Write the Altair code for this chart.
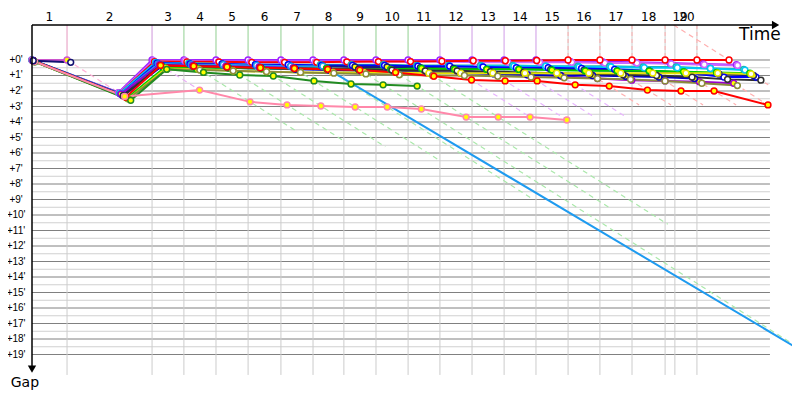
import altair as alt
import pandas as pd

# ---------------- data ----------------
# leader time at the end of each stage (index 0 = start), in minutes
stage_end = [0.0, 1.43, 4.90, 6.20, 7.51, 8.82, 10.16, 11.47, 12.73, 14.04, 15.35,
             16.65, 17.96, 19.27, 20.57, 21.88, 23.18, 24.49, 25.84, 27.14, 28.45]
# vertical grid lines (stage boundaries on the time axis)
grid_times = [1.43, 4.90, 6.20, 7.51, 8.82, 10.16, 11.47, 12.73, 14.04, 15.35,
              16.65, 17.96, 19.27, 20.57, 21.88, 23.18, 24.49, 25.84, 26.24, 27.14]
stage_labels = [str(i) for i in range(1, 21)]
label_pos = [0.71, 3.17, 5.55, 6.86, 8.17, 9.49, 10.82, 12.10, 13.39, 14.70,
             16.00, 17.31, 18.62, 19.92, 21.23, 22.53, 23.84, 25.17, 26.45, 26.73]
# colour of each stage (stage winner), light tone
stage_colors = ["#ffb0d8", "#e8b0f4"] + ["#aae8aa"] * 8 + ["#e8b4ff"] * 4 + ["#ffb0b0"] * 6
# largest gap of each stage (length of the iso-time line)
iso_max = [2.6, 1.94, 4.6, 5.2, 5.6, 6.5, 9.0, 20.0, 9.6, 10.6,
           3.7, 3.9, 3.7, 3.7, 2.9, 2.9, 2.9, 2.9, 2.9, 1.6]

gap_ticks = list(range(0, 20))

N = None
riders = {
    "R01": ("#a020ff", "white",
            [0, 2.10, 0, 0, 0, 0, 0, 0, 0, 0, 0, 0, 0, 0, 0, 0.10, 0.12, 0.15, 0.2, 0.25, 0.3]),
    "R02": ("#cc66ff", "white",
            [0, 2.12, 0.05, 0.05, 0.1, 0.1, 0.1, 0.1, 0.1, 0.1, 0.1, 0.1, 0.15, 0.15, 0.15, 0.15, 0.2, 0.2, 0.25, 0.3, 0.35]),
    "R03": ("#ff0000", "white",
            [0.02, 2.15, 0.1, 0.12, 0.12, 0.15, 0.15, 0.15, 0.12, 0.1, 0.1, 0.08, 0.05, 0.05, 0.03, 0, 0, 0, 0, 0, 0]),
    "R04": ("#20b2aa", "white",
            [0, 2.18, 0.2, 0.2, 0.25, 0.3, 0.3, 0.3, 0.3, 0.3, 0.35, 0.35, 0.35, 0.35, 0.4, 0.4, 0.4, 0.45, 0.45, 0.55, 0.6]),
    "R05": ("#00c8f8", "white",
            [0, 2.15, 0.15, 0.25, 0.3, 0.3, 0.35, 0.35, 0.4, 0.4, 0.4, 0.4, 0.4, 0.4, 0.4, 0.45, 0.45, 0.5, 0.5, 0.55, 0.65]),
    "R06": ("#0000ff", "white",
            [0.05, 2.2, 0.2, 0.25, 0.25, 0.3, 0.3, 0.35, 0.35, 0.35, 0.4, 0.4, 0.45, 0.5, 0.5, 0.55, 0.6, 0.7, 0.8, 1.1, 1.1]),
    "R07": ("#1a1a80", "yellow",
            [0.05, 2.25, 0.25, 0.3, 0.3, 0.35, 0.4, 0.4, 0.45, 0.45, 0.5, 0.55, 0.6, 0.6, 0.6, 0.65, 0.7, 0.75, 0.8, 0.9, 1.0]),
    "R08": ("#1e9bf0", "white",
            [0, 2.2, 0.25, 0.3, 0.3, 0.35, 0.4, 0.4, 20.0, N, N, N, N, N, N, N, N, N, N, N, N]),
    "R09": ("#9900cc", "yellow",
            [0.05, 2.2, 0.3, 0.35, 0.4, 0.45, 0.5, 0.55, 0.6, 0.6, 0.65, 0.7, 0.85, 0.95, 1.05, 1.2, 1.3, 1.35, 1.4, 1.5, N]),
    "R10": ("#0000cc", "yellow",
            [0.05, 2.3, 0.4, 0.45, 0.5, 0.55, 0.6, 0.65, 0.7, 0.75, 0.8, 0.85, 0.9, 0.95, 1.0, 1.0, 1.05, 1.1, 1.2, N, N]),
    "R11": ("#00cc00", "yellow",
            [0.1, 2.45, 0.5, 0.5, 0.5, 0.55, 0.55, 0.55, 0.6, 0.6, 0.55, 0.6, 0.6, 0.6, 0.65, 0.7, 0.7, 0.7, 0.75, 0.8, 0.85]),
    "R12": ("#303030", "white",
            [0.05, 2.3, 0.35, 0.4, 0.45, 0.5, 0.55, 0.6, 0.6, 0.65, 0.7, 0.7, 0.75, 0.8, 0.85, 0.9, 0.95, 1.0, 1.1, 1.25, 1.3]),
    "R13": ("#e6e600", "white",
            [0.1, 2.5, 0.55, 0.6, 0.7, 0.75, 0.8, 0.8, 0.8, 0.8, 0.85, 0.85, 0.85, 0.85, 0.85, 0.85, 0.85, 0.85, 0.85, 0.85, 0.9]),
    "R14": ("#8b8b3a", "white",
            [0.1, 2.5, 0.6, 0.65, 0.7, 0.75, 0.8, 0.85, 0.9, 0.95, 1.0, 1.0, 1.05, 1.1, 1.15, 1.2, 1.25, 1.35, 1.5, 1.65, N]),
    "R15": ("#ff0000", "yellow",
            [0.05, 2.4, 0.35, 0.4, 0.45, 0.5, 0.55, 0.6, 0.65, 0.8, 1.05, 1.29, 1.35, 1.35, 1.6, 1.68, 1.94, 2.0, 2.0, 2.9, N]),
    "R16": ("#228b22", "yellow",
            [0.12, 2.6, 0.6, 0.8, 0.97, 1.03, 1.35, 1.55, 1.6, 1.68, N, N, N, N, N, N, N, N, N, N, N]),
    "R17": ("#ff88aa", "yellow",
            [0.1, 2.35, 1.94, 2.7, 2.9, 2.97, 3.03, 3.03, 3.16, 3.68, 3.68, 3.68, 3.87, N, N, N, N, N, N, N, N]),
    "R18": ("#cc55cc", "yellow",
            [0, 0.0, N, N, N, N, N, N, N, N, N, N, N, N, N, N, N, N, N, N, N]),
    "R19": ("#101070", "white",
            [0.05, 0.15, N, N, N, N, N, N, N, N, N, N, N, N, N, N, N, N, N, N, N]),
}

# ---------------- scales ----------------
TOP = -2.258
BOTTOM = 21.29
xs = alt.Scale(domain=[0, 31.02], nice=False, zero=False)
ys = alt.Scale(domain=[TOP, BOTTOM], nice=False, zero=False, reverse=True)
X = lambda f="t": alt.X(f"{f}:Q", scale=xs, axis=None)
Y = lambda f="g": alt.Y(f"{f}:Q", scale=ys, axis=None)

# ---------------- tables ----------------
rows = []
for name, (col, fill, gaps) in riders.items():
    for i, g in enumerate(gaps):
        if g is None:
            continue
        rows.append({"rider": name, "stage": i, "t": stage_end[i] + g, "g": g, "fill": fill})
pts = pd.DataFrame(rows)
rider_names = list(riders.keys())
rider_cols = [riders[n][0] for n in rider_names]

hgrid = pd.DataFrame(
    [{"g": float(v), "t": 0.0, "t2": 30.12, "kind": "major"} for v in range(0, 20)]
    + [{"g": v + 0.5, "t": 0.0, "t2": 30.12, "kind": "minor"} for v in range(0, 19)])
vgrid = pd.DataFrame([{"t": v, "g": TOP, "g2": 20.32} for v in grid_times])

iso_rows = []
for k in range(1, 21):
    start = TOP if k == 20 else 0.0
    iso_rows.append({"stage": k, "t": stage_end[k] + start, "g": start,
                     "t2": stage_end[k] + iso_max[k - 1], "g2": iso_max[k - 1],
                     "col": stage_colors[k - 1]})
iso = pd.DataFrame(iso_rows)
vcol = pd.DataFrame([{"t": stage_end[k], "g": TOP, "g2": 0.0, "col": stage_colors[k - 1],
                      "dash": k >= 15} for k in range(1, 20)])

ylab = pd.DataFrame({"g": gap_ticks, "t": -0.65, "txt": [f"+{v}'" for v in gap_ticks]})
slab = pd.DataFrame({"t": label_pos, "g": -2.77, "txt": stage_labels})

# ---------------- layers ----------------
minor = alt.Chart(hgrid[hgrid.kind == "minor"]).mark_rule(color="#d0d0d0", strokeWidth=1).encode(
    x=X(), x2="t2:Q", y=Y())
major = alt.Chart(hgrid[hgrid.kind == "major"]).mark_rule(color="#808080", strokeWidth=1).encode(
    x=X(), x2="t2:Q", y=Y())
vg = alt.Chart(vgrid).mark_rule(color="#cccccc", strokeWidth=1).encode(x=X(), y=Y(), y2="g2:Q")
vc_solid = alt.Chart(vcol[~vcol.dash]).mark_rule(strokeWidth=1).encode(
    x=X(), y=Y(), y2="g2:Q", color=alt.Color("col:N", scale=None))
vc_dash = alt.Chart(vcol[vcol.dash]).mark_rule(strokeWidth=1, strokeDash=[4, 3]).encode(
    x=X(), y=Y(), y2="g2:Q", color=alt.Color("col:N", scale=None))
iso_l = alt.Chart(iso).mark_rule(strokeWidth=1.2, strokeDash=[5, 4]).encode(
    x=X(), y=Y(), x2="t2:Q", y2="g2:Q", color=alt.Color("col:N", scale=None))

lines = alt.Chart(pts).mark_line(strokeWidth=2).encode(
    x=X(), y=Y(), order="stage:Q",
    color=alt.Color("rider:N", scale=alt.Scale(domain=rider_names, range=rider_cols), legend=None))
dots = alt.Chart(pts).mark_point(shape="circle", size=34, strokeWidth=1.5, opacity=1,
                                  filled=False, fillOpacity=1).encode(
    x=X(), y=Y(),
    stroke=alt.Stroke("rider:N", scale=alt.Scale(domain=rider_names, range=rider_cols), legend=None),
    fill=alt.Fill("fill:N", scale=None))

axis_top = alt.Chart(pd.DataFrame({"t": [0.0], "t2": [30.3], "g": [TOP]})).mark_rule(
    color="black", strokeWidth=1.5).encode(x=X(), x2="t2:Q", y=Y())
axis_left = alt.Chart(pd.DataFrame({"t": [0.0], "g": [TOP], "g2": [19.8]})).mark_rule(
    color="black", strokeWidth=1.5).encode(x=X(), y=Y(), y2="g2:Q")
arrow_r = alt.Chart(pd.DataFrame({"t": [30.35], "g": [TOP]})).mark_point(
    shape="triangle-right", size=70, filled=True, color="black", opacity=1).encode(x=X(), y=Y())
arrow_d = alt.Chart(pd.DataFrame({"t": [0.0], "g": [19.94]})).mark_point(
    shape="triangle-down", size=70, filled=True, color="black", opacity=1).encode(x=X(), y=Y())

ytext = alt.Chart(ylab).mark_text(fontSize=10, font="Liberation Sans", align="center",
                                  baseline="middle", color="black").encode(x=X(), y=Y(), text="txt:N")
stext = alt.Chart(slab).mark_text(fontSize=12, font="DejaVu Sans", align="center",
                                  baseline="middle", color="black").encode(x=X(), y=Y(), text="txt:N")
time_t = alt.Chart(pd.DataFrame({"t": [29.71], "g": [-1.61], "txt": ["Time"]})).mark_text(
    fontSize=17, font="DejaVu Sans", align="center", baseline="middle", color="black").encode(
    x=X(), y=Y(), text="txt:N")
gap_t = alt.Chart(pd.DataFrame({"t": [-0.29], "g": [20.85], "txt": ["Gap"]})).mark_text(
    fontSize=14, font="DejaVu Sans", align="center", baseline="middle", color="black").encode(
    x=X(), y=Y(), text="txt:N")

chart = alt.layer(
    minor, major, vg, vc_solid, vc_dash, iso_l, lines, dots,
    axis_top, axis_left, arrow_r, arrow_d, ytext, stext, time_t, gap_t
).properties(
    width=760, height=365,
    autosize=alt.AutoSizeParams(type="none"),
    padding={"left": 24, "top": 17, "right": 0, "bottom": 0},
    background="white",
).configure_view(stroke=None)

chart.save("out.html", embed_options={"renderer": "svg", "actions": False})
